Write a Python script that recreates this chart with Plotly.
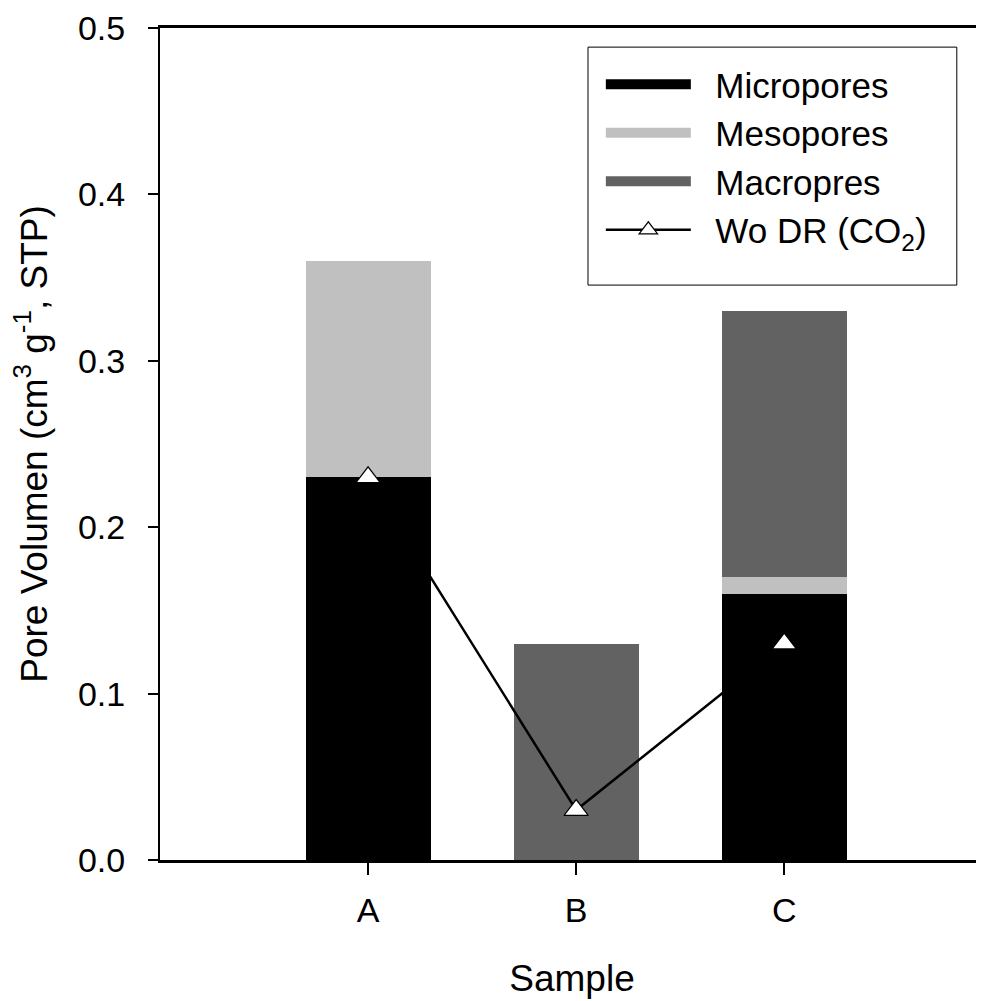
import plotly.graph_objects as go

categories = ["A", "B", "C"]
micropores = [0.23, 0.0, 0.16]
mesopores = [0.13, 0.0, 0.01]
macropores = [0.0, 0.13, 0.16]
wo_dr = [0.23, 0.03, 0.13]
y_ticks = [0.0, 0.1, 0.2, 0.3, 0.4, 0.5]

FONT = "Liberation Sans, Arial, sans-serif"
C_MICRO = "#000000"
C_MESO = "#c0c0c0"
C_MACRO = "#626262"
PAD = "\u00a0\u00a0"

fig = go.Figure()
for name, vals, col in [("Micropores", micropores, C_MICRO),
                        ("Mesopores", mesopores, C_MESO),
                        ("Macropres", macropores, C_MACRO)]:
    fig.add_trace(go.Bar(x=categories, y=vals, name=name, marker=dict(color=col, line=dict(width=0)),
                         width=0.6, showlegend=False))
    fig.add_trace(go.Scatter(x=[None], y=[None], mode="lines", name=PAD + name,
                             line=dict(color=col, width=15), showlegend=True))

fig.add_trace(go.Scatter(x=categories, y=wo_dr, mode="lines+markers", name=PAD + "Wo DR (CO<sub>2</sub>)",
                         line=dict(color="black", width=2.5),
                         marker=dict(symbol="triangle-up", size=21, color="white",
                                     line=dict(color="black", width=1.2))))

# right-side inward ticks
fig.add_trace(go.Scatter(x=[None], y=[None], yaxis="y2", showlegend=False))

fig.update_layout(
    width=976, height=993,
    margin=dict(l=152, r=0, t=20, b=141),
    paper_bgcolor="white", plot_bgcolor="white",
    barmode="stack",
    font=dict(family=FONT, size=34, color="black"),
    xaxis=dict(type="category", range=[-1, 2.96], showline=True, linewidth=3, linecolor="black",
               mirror=True, ticks="outside", ticklen=12, tickwidth=2, tickcolor="black",
               showgrid=False, zeroline=False, ticklabelstandoff=6,
               title=dict(text="Sample", standoff=38, font=dict(size=37))),
    yaxis=dict(range=[0, 0.5], tickvals=y_ticks, tickformat=".1f", showline=True, linewidth=2,
               linecolor="black", ticks="outside", ticklen=10, tickwidth=2, tickcolor="black",
               showgrid=False, zeroline=False, ticklabelstandoff=16,
               title=dict(text="Pore Volumen (cm<sup>3</sup> g<sup>-1</sup>, STP)", standoff=22,
                          font=dict(size=37))),
    yaxis2=dict(range=[0, 0.5], tickvals=y_ticks, overlaying="y", side="right", ticks="inside",
                ticklen=5, tickwidth=2, tickcolor="black", showticklabels=False,
                showline=False, showgrid=False, zeroline=False),
    legend=dict(x=0.535, y=0.9675, xanchor="left", yanchor="top", borderwidth=0,
                bgcolor="rgba(0,0,0,0)", font=dict(size=35), traceorder="normal", itemwidth=85,
                tracegroupgap=0),
    shapes=[dict(type="rect", xref="paper", yref="paper", x0=0.5194, x1=0.967, y0=0.691, y1=0.977,
                 line=dict(color="black", width=1), fillcolor="white", layer="below")],
)

fig.write_html("out.html")
